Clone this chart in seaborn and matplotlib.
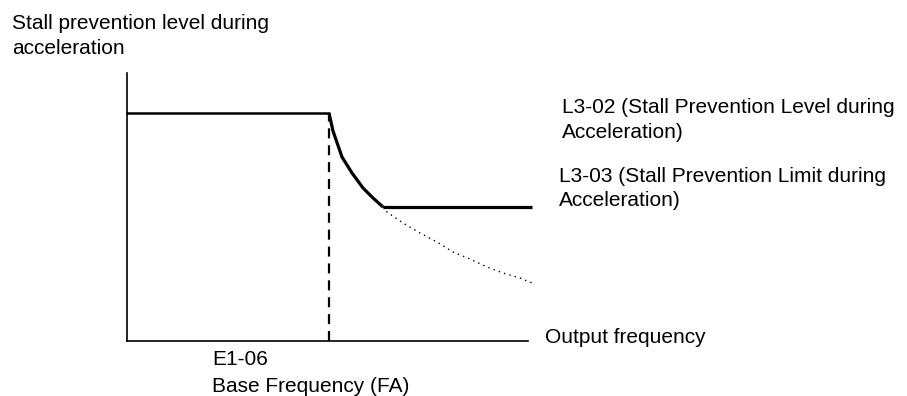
import matplotlib
matplotlib.use("Agg")
import matplotlib.pyplot as plt
import seaborn as sns

# chart values, in drawing units (frequency to the right, level upward)
level_x = [0, 202]
level_y = [228, 228]

curve_x = [202, 206, 215, 225, 236, 246, 256]
curve_y = [228, 210, 184, 168, 153, 143, 134]

limit_x = [256, 405]
limit_y = [134, 134]

dotted_x = [256, 260, 276, 293, 310, 326, 343, 360, 376, 393, 405]
dotted_y = [134, 129, 118, 108, 99, 89, 82, 74, 68, 63, 58]

base_x = [202, 202]
base_y = [0, 228]

y_label = ["Stall prevention level during", "acceleration"]
l302_label = ["L3-02 (Stall Prevention Level during", "Acceleration)"]
l303_label = ["L3-03 (Stall Prevention Limit during", "Acceleration)"]
x_label = "Output frequency"
base_label = ["E1-06", "Base Frequency (FA)"]

sns.set_style("white")
plt.rcParams['font.family'] = ['Liberation Sans', 'DejaVu Sans']

fig = plt.figure(figsize=(9.07, 3.96), dpi=100)
ax = fig.add_axes([0, 0, 1, 1])
ax.set_xlim(-127, 780)
ax.set_ylim(-55, 341)

# axes drawn as spines through the origin
for side in ["top", "right"]:
    ax.spines[side].set_visible(False)
ax.spines["left"].set_position(("data", 0))
ax.spines["bottom"].set_position(("data", 0))
ax.spines["left"].set_bounds(0, 268)
ax.spines["bottom"].set_bounds(0, 401)
for side in ["left", "bottom"]:
    ax.spines[side].set_linewidth(1.2)
    ax.spines[side].set_color("black")
ax.set_xticks([])
ax.set_yticks([])

kw = dict(ax=ax, color="black", estimator=None, sort=False)
sns.lineplot(x=dotted_x, y=dotted_y, linewidth=1.0, linestyle=(0, (1, 3)), **kw)
sns.lineplot(x=base_x, y=base_y, linewidth=1.6, linestyle=(0, (4.5, 3.1)), **kw)
sns.lineplot(x=level_x, y=level_y, linewidth=1.8, **kw)
sns.lineplot(x=curve_x, y=curve_y, linewidth=2.3, solid_capstyle="butt", **kw)
sns.lineplot(x=limit_x, y=limit_y, linewidth=2.3, solid_capstyle="butt", **kw)

fs = 15
tk = dict(fontsize=fs, va="baseline", ha="left", color="black")
ax.text(-115, 312, y_label[0], **tk)
ax.text(-115, 287, y_label[1], **tk)
ax.text(435, 228, l302_label[0], **tk)
ax.text(435, 203, l302_label[1], **tk)
ax.text(432, 159, l303_label[0], **tk)
ax.text(432, 135, l303_label[1], **tk)
ax.text(418, -2, x_label, **tk)
ax.text(85, -24, base_label[0], **tk)
ax.text(85, -51, base_label[1], **tk)

fig.savefig("out.png", dpi=100)
